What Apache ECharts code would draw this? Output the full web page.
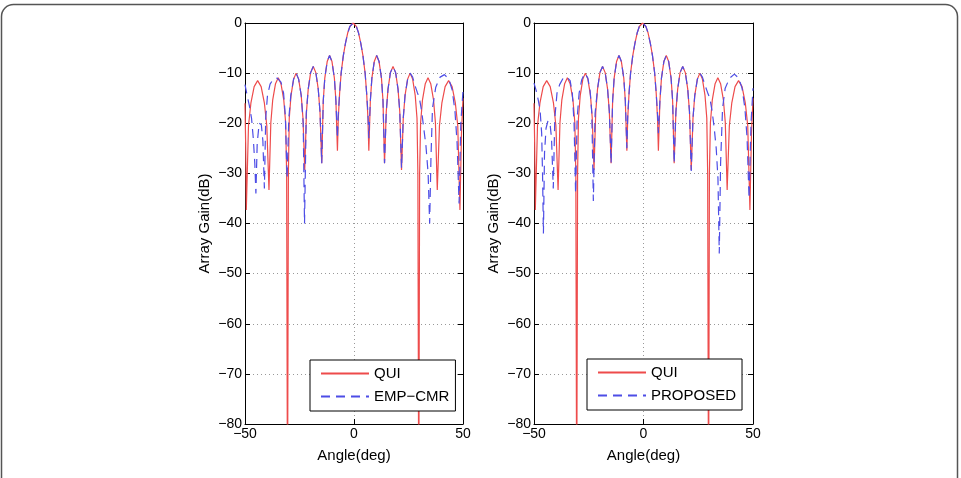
<!DOCTYPE html>
<html>
<head>
<meta charset="utf-8">
<script src="https://cdn.jsdelivr.net/npm/echarts@6/dist/echarts.min.js"></script>
<style>
  html, body { margin: 0; padding: 0; background: #fff; }
  #chart { width: 961px; height: 478px; }
</style>
</head>
<body>
<div id="chart"></div>
<script>
// angle (deg), gain (dB)
const qui = [
  [-50,-16],[-49.7,-24],[-49.4,-37.3],
  [-48.4,-20.5],[-47.3,-16],[-45.8,-12.7],[-44.2,-11.5],[-42.6,-12.7],[-41.1,-16],[-40,-20.5],[-39,-33.3],
  [-38.15,-19.9],[-37.3,-15.4],[-36,-12.1],[-34.75,-10.9],[-33.5,-12.1],[-32.2,-15.4],[-31.35,-19.9],[-30.9,-30],[-30.5,-100],
  [-30.1,-30],[-29.7,-19],[-28.9,-14.5],[-27.7,-11.2],[-26.55,-10],[-25.4,-11.2],[-24.2,-14.5],[-23.4,-19],[-22.6,-29.3],
  [-21.8,-17.7],[-21,-13.2],[-19.9,-9.9],[-18.7,-8.7],[-17.5,-9.9],[-16.4,-13.2],[-15.6,-17.7],[-14.8,-28],
  [-14.1,-15.5],[-13.4,-11],[-12.3,-7.7],[-11.2,-6.5],[-10.1,-7.7],[-9,-11],[-8.3,-15.5],[-7.6,-25.5],
  [-7.2,-19],[-6.6,-14],[-5.9,-10],[-4.9,-6.5],[-3.9,-4],[-2.9,-2],[-1.9,-0.7],[-0.4,0],
  [1.1,-0.7],[2.1,-2],[3.1,-4],[4.1,-6.5],[5.1,-10],[5.8,-14],[6.4,-19],[6.8,-25.5],
  [7.5,-15.5],[8.2,-11],[9.3,-7.7],[10.4,-6.5],[11.5,-7.7],[12.6,-11],[13.3,-15.5],[14,-28],
  [14.8,-17.7],[15.6,-13.2],[16.7,-9.9],[17.9,-8.7],[19.1,-9.9],[20.2,-13.2],[21,-17.7],[21.8,-29.3],
  [22.6,-19],[23.4,-14.5],[24.6,-11.2],[25.75,-10],[26.9,-11.2],[28.1,-14.5],[28.9,-19],[29.3,-30],[29.7,-100],
  [30.1,-30],[30.55,-19.9],[31.4,-15.4],[32.7,-12.1],[33.95,-10.9],[35.2,-12.1],[36.5,-15.4],[37.35,-19.9],[38.2,-33.3],
  [39.2,-20.5],[40.3,-16],[41.8,-12.7],[43.4,-11.5],[45,-12.7],[46.5,-16],[47.6,-20.5],[48.6,-37.3],
  [49.3,-22],[50,-15]
];

const empCmr = [
  [-50,-12.3],[-49,-14.5],[-48,-16.5],[-47,-19],[-46.2,-23],[-45.5,-28],[-45,-34],[-44.4,-24],[-43.5,-20],
  [-42.5,-20.3],[-41.8,-23.5],[-41.1,-33],[-40.5,-19],[-39.7,-14.5],[-38.5,-12.2],[-37,-11.2],[-35.2,-11],
  [-33.5,-11.8],[-32.3,-14],[-31.5,-18.5],[-30.7,-31],[-29.9,-19],[-29,-14.5],[-27.7,-11.2],[-26.55,-10],
  [-25.4,-11.2],[-24.2,-14.5],[-23.3,-20],[-22.7,-40],[-21.9,-18],[-21,-13.2],[-19.9,-9.9],[-18.7,-8.7],
  [-17.5,-9.9],[-16.4,-13.2],[-15.6,-17.7],[-14.8,-28],[-14.1,-15.5],[-13.4,-11],[-12.3,-7.7],[-11.2,-6.5],
  [-10.1,-7.7],[-9,-11],[-8.3,-15.5],[-7.6,-23],[-7.2,-18],[-6.6,-14],[-5.9,-10],[-4.9,-6.5],[-3.9,-4],
  [-2.9,-2],[-1.9,-0.7],[-0.4,0],[1.1,-0.7],[2.1,-2],[3.1,-4],[4.1,-6.5],[5.1,-10],[5.8,-14],[6.4,-18],
  [6.8,-23],[7.5,-15.5],[8.2,-11],[9.3,-7.7],[10.4,-6.5],[11.5,-7.7],[12.6,-11],[13.3,-15.5],[14,-28],
  [14.8,-17.7],[15.6,-13.2],[16.7,-9.9],[17.9,-8.7],[19.1,-9.9],[20.2,-13.2],[21,-17.7],[21.8,-29],
  [22.6,-19],[23.4,-14.5],[24.6,-11.2],[25.75,-10],[26.9,-10.8],[28,-12.5],[29,-13.8],[30,-15],[31,-17.5],
  [32,-21],[33,-24.5],[34,-30],[34.7,-40],[35.3,-27],[36,-17],[37.5,-12.8],[39.5,-10.8],[41.5,-10.3],
  [43.5,-11.2],[45,-13.3],[46.3,-17.5],[47.3,-24],[48.2,-36],[49,-20],[50,-13.5]
];

const proposed = [
  [-50,-12],[-49,-13.5],[-48,-15.5],[-47.2,-17.5],[-46.5,-22],[-46.1,-30],[-45.7,-42],[-45.2,-26],[-44.5,-21],
  [-43.6,-19.5],[-42.7,-20],[-42,-23],[-41.6,-28],[-41.2,-33],[-40.5,-19],[-39.5,-14],[-38.3,-12.3],[-36.7,-11],
  [-35,-10.8],[-33.5,-11.5],[-32.5,-14],[-31.7,-20],[-31,-34],[-30.3,-19],[-29.4,-14],[-28.2,-11.3],[-26.8,-10],
  [-25.4,-11],[-24.4,-13.5],[-23.6,-18],[-22.9,-35.5],[-22.1,-18],[-21,-13.2],[-19.9,-9.9],[-18.7,-8.7],
  [-17.5,-9.9],[-16.4,-13.2],[-15.6,-17.7],[-14.8,-28],[-14.1,-15.5],[-13.4,-11],[-12.3,-7.7],[-11.2,-6.5],
  [-10.1,-7.7],[-9,-11],[-8.3,-15.5],[-7.6,-25],[-7.2,-18.5],[-6.6,-14],[-5.9,-10],[-4.9,-6.5],[-3.9,-4],
  [-2.9,-2],[-1.9,-0.7],[-0.4,0],[1.1,-0.7],[2.1,-2],[3.1,-4],[4.1,-6.5],[5.1,-10],[5.8,-14],[6.4,-18],
  [6.8,-22],[7.5,-15.5],[8.2,-11],[9.3,-7.7],[10.4,-6.5],[11.5,-7.7],[12.6,-11],[13.3,-15.5],[14,-28],
  [14.8,-17.7],[15.6,-13.2],[16.7,-9.9],[17.9,-8.7],[19.1,-9.9],[20.2,-13.2],[21,-17.7],[21.8,-29.5],
  [22.6,-19],[23.4,-14.5],[24.6,-11.2],[25.75,-10],[26.9,-10.8],[28,-12.3],[29.2,-13.8],[30.3,-15],[31.3,-17.5],
  [32.3,-21],[33.2,-25],[34,-31],[34.6,-46],[35.2,-28],[36.1,-17],[37.3,-13],[39.3,-11],[41.5,-10.2],
  [43.5,-11],[45,-13],[46.3,-17],[47.3,-23],[48.2,-35],[49.1,-20],[50,-13]
];

const xRange = [-50, 50];
const yRange = [-80, 0];

const red = '#ee4b4b';
const blue = '#4d4de6';
const font = 'Arial, "Liberation Sans", Helvetica, sans-serif';

const chart = echarts.init(document.getElementById('chart'), null, { renderer: 'canvas' });

const minus = v => (v < 0 ? '\u2212' + Math.abs(v) : String(v));

const xAx = (grid, pos) => ({
  type: 'value', gridIndex: grid, position: pos,
  min: xRange[0], max: xRange[1], interval: 50,
  name: pos === 'bottom' ? 'Angle(deg)' : '',
  nameLocation: 'middle', nameGap: 24,
  nameTextStyle: { color: '#000', fontSize: 15, fontFamily: font },
  axisLine: { show: true, onZero: false, lineStyle: { color: '#000', width: 1 } },
  axisTick: { show: true, inside: true, length: 5, lineStyle: { color: '#000' } },
  axisLabel: { show: pos === 'bottom', margin: 3, color: '#000', fontSize: 14, fontFamily: font, formatter: minus },
  splitLine: { show: pos === 'bottom', lineStyle: { color: '#999', type: [1, 3] } }
});

const yAx = (grid, pos) => ({
  type: 'value', gridIndex: grid, position: pos,
  min: yRange[0], max: yRange[1], interval: 10,
  name: pos === 'left' ? 'Array Gain(dB)' : '',
  nameLocation: 'middle', nameGap: 33,
  nameTextStyle: { color: '#000', fontSize: 15, fontFamily: font },
  axisLine: { show: true, onZero: false, lineStyle: { color: '#000', width: 1 } },
  axisTick: { show: true, inside: true, length: 5, lineStyle: { color: '#000' } },
  axisLabel: { show: pos === 'left', margin: 3, color: '#000', fontSize: 14, fontFamily: font, formatter: minus },
  splitLine: { show: pos === 'left', lineStyle: { color: '#999', type: [1, 3] } }
});

const legendBox = (left, top, names) => ({
  data: names, orient: 'vertical', left: left, top: top,
  backgroundColor: '#fff', borderColor: '#000', borderWidth: 1,
  padding: [6, 6, 7, 10], itemWidth: 48, itemHeight: 14, itemGap: 8,
  itemStyle: { opacity: 0 },
  textStyle: { color: '#000', fontSize: 15, fontFamily: font },
  selectedMode: false
});

const line = (name, data, axis, color, dashed) => ({
  name: name, type: 'line', data: data,
  xAxisIndex: axis, yAxisIndex: axis,
  symbol: 'none', showSymbol: false, animation: false,
  lineStyle: { color: color, width: 1.2, type: dashed ? [9, 6] : 'solid' },
  itemStyle: { color: color }
});

chart.setOption({
  backgroundColor: '#fff',
  animation: false,
  grid: [
    { left: 245, top: 23, width: 218, height: 401 },
    { left: 534, top: 23, width: 219, height: 401 }
  ],
  xAxis: [xAx(0, 'bottom'), xAx(0, 'top'), xAx(1, 'bottom'), xAx(1, 'top')],
  yAxis: [yAx(0, 'left'), yAx(0, 'right'), yAx(1, 'left'), yAx(1, 'right')],
  legend: [
    legendBox(310, 360, ['QUI', 'EMP\u2212CMR']),
    legendBox(587, 359, ['QUI', 'PROPOSED'])
  ],
  graphic: [{
    type: 'rect', silent: true, z: -10,
    shape: { x: 1.5, y: 4.5, width: 956, height: 520, r: 12 },
    style: { fill: 'none', stroke: '#555', lineWidth: 1.5 }
  }],
  series: [
    line('QUI', qui, 0, red, false),
    line('EMP\u2212CMR', empCmr, 0, blue, true),
    line('QUI', qui, 2, red, false),
    line('PROPOSED', proposed, 2, blue, true)
  ]
});
</script>
</body>
</html>
